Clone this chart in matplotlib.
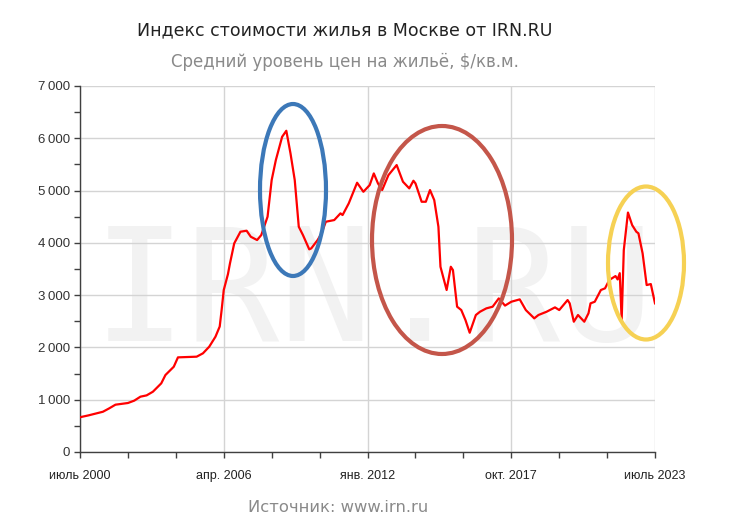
"""
Moscow housing price index (IRN.RU), average $/sq.m.
"""

import matplotlib
matplotlib.use("Agg")
import matplotlib.pyplot as plt
from matplotlib.patches import Ellipse
from matplotlib.ticker import FuncFormatter, MultipleLocator
import pandas as pd

# --- data -----------------------------------------------------------------
dates = [
    "2000-07", "2000-11", "2001-06", "2001-09", "2001-12", "2002-06", "2002-09",
    "2002-12", "2003-03", "2003-06", "2003-10", "2003-12", "2004-04", "2004-06",
    "2005-03", "2005-06", "2005-09", "2005-12", "2006-02", "2006-03", "2006-04",
    "2006-06", "2006-07", "2006-09", "2006-12", "2007-03", "2007-05", "2007-08",
    "2007-10", "2008-01", "2008-03", "2008-05", "2008-08", "2008-10", "2008-12",
    "2009-02", "2009-04", "2009-06", "2009-09", "2009-10", "2010-01", "2010-03",
    "2010-05", "2010-09", "2010-12", "2011-01", "2011-04", "2011-08", "2011-11",
    "2012-02", "2012-04", "2012-06", "2012-08", "2012-11", "2013-03", "2013-06",
    "2013-09", "2013-11", "2013-12", "2014-03", "2014-05", "2014-07", "2014-09",
    "2014-11", "2014-12", "2015-03", "2015-05", "2015-06", "2015-08", "2015-10",
    "2015-12", "2016-02", "2016-05", "2016-07", "2016-10", "2017-01", "2017-04",
    "2017-07", "2017-10", "2018-02", "2018-05", "2018-09", "2018-11", "2019-03",
    "2019-07", "2019-09", "2020-01", "2020-02", "2020-04", "2020-06", "2020-09",
    "2020-11", "2020-12", "2021-02", "2021-05", "2021-07", "2021-09", "2021-12",
    "2022-01", "2022-02", "2022-03", "2022-04", "2022-06", "2022-08", "2022-10",
    "2022-11", "2023-01", "2023-03", "2023-05", "2023-07",
]
price = [
    665, 700, 770, 835, 905, 937, 982,
    1058, 1083, 1153, 1313, 1472, 1631, 1810,
    1823, 1887, 2014, 2205, 2400, 2715, 3098,
    3400, 3608, 3990, 4213, 4232, 4117, 4054,
    4149, 4500, 5201, 5583, 6029, 6144, 5711,
    5201, 4308, 4149, 3876, 3895, 4054, 4182,
    4404, 4436, 4564, 4532, 4755, 5150, 4977,
    5105, 5328, 5137, 5010, 5296, 5488, 5169,
    5042, 5188, 5137, 4786, 4786, 5010, 4818,
    4308, 3543, 3098, 3543, 3480, 2779, 2715,
    2524, 2281, 2620, 2683, 2747, 2779, 2938,
    2800, 2874, 2919, 2715, 2556, 2620, 2683,
    2766, 2715, 2906, 2843, 2492, 2620, 2492,
    2652, 2843, 2874, 3098, 3130, 3289, 3365,
    3300, 3420, 2520, 3860, 4580, 4340, 4213,
    4182, 3799, 3193, 3212, 2843,
]
x_tick_labels = ["июль 2000", "апр. 2006", "янв. 2012", "окт. 2017", "июль 2023"]

title = "Индекс стоимости жилья в Москве от IRN.RU"
subtitle = "Средний уровень цен на жильё, $/кв.м."
source = "Источник: www.irn.ru"

# --- figure ---------------------------------------------------------------
W, H = 738, 525
fig = plt.figure(figsize=(W / 100, H / 100), dpi=100)
ax = fig.add_axes([80 / W, 1 - 452 / H, 575 / W, 366 / H])

x = pd.to_datetime(dates)
ax.plot(x, price, color="#ff0000", lw=1.6, zorder=3)

major = pd.date_range("2000-07-01", periods=5, freq="69MS")
minor = pd.date_range("2000-07-01", periods=13, freq="23MS")
ax.set_xlim(major[0], major[-1])
ax.set_ylim(0, 7000)
ax.set_xticks(major)
ax.set_xticks(minor, minor=True)
ax.set_xticklabels(x_tick_labels)
ax.yaxis.set_major_locator(MultipleLocator(1000))
ax.yaxis.set_minor_locator(MultipleLocator(500))
ax.yaxis.set_major_formatter(
    FuncFormatter(lambda v, _: f"{int(v):,}".replace(",", "\u2009")))

ax.set_axisbelow(True)
ax.grid(True, which="major", color="#d4d4d4", lw=1.0)
for s in ("top", "right"):
    ax.spines[s].set_visible(False)
for s in ("left", "bottom"):
    ax.spines[s].set_color("#404040")
    ax.spines[s].set_linewidth(1.0)

ax.tick_params(which="both", direction="out", color="#404040", length=4, width=1)
ax.tick_params(axis="y", labelsize=9.5, labelcolor="#333333", pad=3)
ax.tick_params(axis="x", labelsize=9, labelcolor="#222222", pad=9)
for lab in ax.get_xticklabels():
    lab.set_family(["Liberation Sans Narrow", "Liberation Sans"])
for lab in ax.get_yticklabels():
    lab.set_family(["Liberation Sans Narrow", "Liberation Sans"])

# watermark
ax.text(0.51, 0.303, "IRN.RU", transform=ax.transAxes, ha="center",
        va="baseline", fontsize=112, family="DejaVu Sans Mono",
        color="#f2f2f2", zorder=0.1)

# titles
cx = 345 / W
fig.text(cx, 1 - 30 / H, title, ha="center", va="center",
         fontsize=12.5, color="#222222", family="DejaVu Sans")
fig.text(cx, 1 - 62 / H, subtitle, ha="center", va="center",
         fontsize=12, color="#8a8a8a", family="DejaVu Sans")
fig.text(338 / W, 1 - 507 / H, source, ha="center", va="center",
         fontsize=11.8, color="#8a8a8a", family="DejaVu Sans")

# highlight ellipses (pixel centre / size)
ellipses = [
    (293, 190, 66, 172, "#3c78b8"),
    (442, 240, 140, 228, "#c4564a"),
    (646, 263, 76, 153, "#f6d154"),
]
for ex, ey, ew, eh, col in ellipses:
    fig.add_artist(Ellipse((ex / W, 1 - ey / H), ew / W, eh / H,
                           transform=fig.transFigure, fill=False,
                           edgecolor=col, lw=3, zorder=5))

fig.savefig("out.png", dpi=100)
